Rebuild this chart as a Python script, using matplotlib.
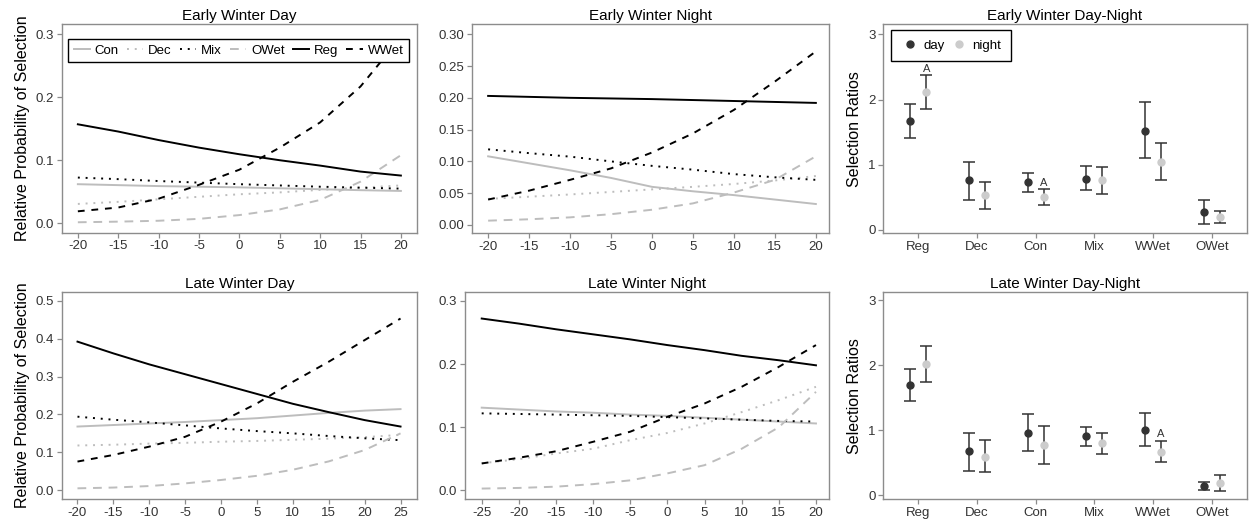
import numpy as np
import matplotlib
matplotlib.use("Agg")
from matplotlib import pyplot as plt
from matplotlib.ticker import FormatStrFormatter

plt.rcParams["font.family"] = ["Liberation Sans", "DejaVu Sans"]
plt.rcParams["axes.unicode_minus"] = False

# %% curve data
habitats = ["Con", "Dec", "Mix", "OWet", "Reg", "WWet"]

x_ewd = [-20, -15, -10, -5, 0, 5, 10, 15, 20]
ewd = {
    "Con": [0.062, 0.0605, 0.059, 0.058, 0.057, 0.0555, 0.054, 0.0525, 0.0513],
    "Dec": [0.0307, 0.034, 0.038, 0.042, 0.046, 0.049, 0.053, 0.0565, 0.060],
    "Mix": [0.0725, 0.070, 0.067, 0.0645, 0.062, 0.060, 0.058, 0.0565, 0.055],
    "OWet": [0.0016, 0.0026, 0.004, 0.007, 0.013, 0.022, 0.037, 0.066, 0.108],
    "Reg": [0.157, 0.1455, 0.132, 0.120, 0.1095, 0.100, 0.0915, 0.082, 0.0757],
    "WWet": [0.019, 0.025, 0.039, 0.061, 0.085, 0.120, 0.160, 0.217, 0.295],
}

x_ewn = [-20, -15, -10, -5, 0, 5, 10, 15, 20]
ewn = {
    "Con": [0.108, 0.097, 0.086, 0.074, 0.060, 0.053, 0.047, 0.040, 0.033],
    "Dec": [0.041, 0.0445, 0.048, 0.052, 0.056, 0.060, 0.0645, 0.070, 0.077],
    "Mix": [0.119, 0.113, 0.1075, 0.100, 0.093, 0.087, 0.080, 0.075, 0.071],
    "OWet": [0.0068, 0.009, 0.012, 0.017, 0.024, 0.034, 0.051, 0.071, 0.108],
    "Reg": [0.203, 0.2015, 0.200, 0.199, 0.198, 0.1965, 0.195, 0.1935, 0.192],
    "WWet": [0.040, 0.054, 0.071, 0.089, 0.114, 0.144, 0.181, 0.2256, 0.273],
}

x_lwd = [-20, -15, -10, -5, 0, 5, 10, 15, 20, 25]
lwd = {
    "Con": [0.168, 0.172, 0.176, 0.180, 0.185, 0.190, 0.197, 0.204, 0.210, 0.214],
    "Dec": [0.118, 0.120, 0.123, 0.125, 0.128, 0.130, 0.133, 0.136, 0.140, 0.146],
    "Mix": [0.194, 0.186, 0.179, 0.171, 0.163, 0.156, 0.150, 0.143, 0.137, 0.132],
    "OWet": [0.005, 0.007, 0.011, 0.018, 0.027, 0.038, 0.054, 0.076, 0.106, 0.150],
    "Reg": [0.392, 0.361, 0.332, 0.306, 0.280, 0.254, 0.228, 0.206, 0.185, 0.168],
    "WWet": [0.0756, 0.093, 0.115, 0.141, 0.181, 0.229, 0.286, 0.339, 0.396, 0.453],
}

x_lwn = [-25, -20, -15, -10, -5, 0, 5, 10, 15, 20]
lwn = {
    "Con": [0.131, 0.128, 0.125, 0.123, 0.120, 0.118, 0.115, 0.112, 0.109, 0.106],
    "Dec": [0.043, 0.0495, 0.0585, 0.066, 0.0796, 0.091, 0.106, 0.124, 0.143, 0.164],
    "Mix": [0.122, 0.121, 0.120, 0.119, 0.118, 0.116, 0.114, 0.112, 0.110, 0.109],
    "OWet": [0.003, 0.004, 0.006, 0.010, 0.016, 0.027, 0.040, 0.066, 0.100, 0.156],
    "Reg": [0.272, 0.264, 0.255, 0.247, 0.239, 0.230, 0.222, 0.213, 0.206, 0.198],
    "WWet": [0.0427, 0.0517, 0.062, 0.077, 0.093, 0.1165, 0.1376, 0.164, 0.1956, 0.230],
}

# %% selection ratios
cats = ["Reg", "Dec", "Con", "Mix", "WWet", "OWet"]

early_day = [1.676, 0.767, 0.73, 0.79, 1.523, 0.281]
early_day_lo = [1.416, 0.46, 0.58, 0.61, 1.10, 0.097]
early_day_hi = [1.94, 1.047, 0.872, 0.98, 1.958, 0.465]
early_night = [2.12, 0.537, 0.50, 0.767, 1.038, 0.204]
early_night_lo = [1.856, 0.322, 0.383, 0.552, 0.767, 0.112]
early_night_hi = [2.377, 0.74, 0.627, 0.96, 1.33, 0.291]
early_marks = ["Reg", "Con"]

late_day = [1.70, 0.68, 0.967, 0.91, 1.013, 0.144]
late_day_lo = [1.455, 0.37, 0.69, 0.755, 0.755, 0.087]
late_day_hi = [1.95, 0.96, 1.255, 1.06, 1.27, 0.21]
late_night = [2.015, 0.596, 0.78, 0.81, 0.673, 0.195]
late_night_lo = [1.743, 0.355, 0.483, 0.643, 0.509, 0.067]
late_night_hi = [2.30, 0.86, 1.075, 0.96, 0.843, 0.308]
late_marks = ["WWet"]

# %% styles
GRAY = "#bdbdbd"
styles = {
    "Con": dict(color=GRAY),
    "Dec": dict(color=GRAY, dashes=(1, 3)),
    "Mix": dict(color="black", dashes=(1, 3)),
    "OWet": dict(color=GRAY, dashes=(4.5, 3.5)),
    "Reg": dict(color="black"),
    "WWet": dict(color="black", dashes=(3.5, 3.5)),
}
FRAME = "#8c8c8c"


def style_axes(ax):
    for s in ax.spines.values():
        s.set_color(FRAME)
        s.set_linewidth(1.0)
    ax.tick_params(direction="out", length=3.5, width=0.9, color=FRAME,
                   labelcolor="#333333", labelsize=9.5, pad=2)


def curves(ax, x, data, title, xlim, ylim, yticks, fmt, ylabel=False, legend=False):
    for h in habitats:
        ax.plot(x, data[h], lw=1.4, label=h, **styles[h])
    ax.set_xlim(*xlim)
    ax.set_ylim(*ylim)
    ax.set_xticks(np.arange(x[0], x[-1] + 1, 5))
    ax.set_yticks(yticks)
    ax.yaxis.set_major_formatter(FormatStrFormatter(fmt))
    ax.set_title(title, fontsize=11, pad=3)
    style_axes(ax)
    if ylabel:
        ax.set_ylabel("Relative Probability of Selection", fontsize=11.5, labelpad=4)
    if legend:
        leg = ax.legend(ncol=6, loc="lower left", mode="expand",
                        bbox_to_anchor=(0.0186, 0.819, 0.958, 0.157),
                        fontsize=9.5, handlelength=1.25, handletextpad=0.35,
                        columnspacing=0.5, borderaxespad=0, fancybox=False,
                        framealpha=1, edgecolor="black")
        leg.get_frame().set_linewidth(1.0)


def ratios(ax, title, d, dlo, dhi, n, nlo, nhi, marks, ylim, legend=False):
    pos = np.arange(len(cats))
    off = 0.135
    d, dlo, dhi = np.array(d), np.array(dlo), np.array(dhi)
    n, nlo, nhi = np.array(n), np.array(nlo), np.array(nhi)
    ax.errorbar(pos - off, d, yerr=[d - dlo, dhi - d], fmt="none",
                ecolor="#333333", elinewidth=1.1, capsize=4.3, capthick=1.1)
    ax.errorbar(pos + off, n, yerr=[n - nlo, nhi - n], fmt="none",
                ecolor="#333333", elinewidth=1.1, capsize=4.3, capthick=1.1)
    ax.plot(pos - off, d, "o", color="#333333", ms=5, label="day", zorder=3)
    ax.plot(pos + off, n, "o", color="#cccccc", ms=5, label="night", zorder=3)
    for m in marks:
        i = cats.index(m)
        ax.text(pos[i] + off, nhi[i] + 0.02, "A", ha="center", va="bottom",
                fontsize=8, color="#333333")
    ax.set_xlim(-0.6, 5.6)
    ax.set_ylim(*ylim)
    ax.set_xticks(pos)
    ax.set_xticklabels(cats)
    ax.set_yticks([0, 1, 2, 3])
    ax.set_title(title, fontsize=11, pad=3)
    ax.set_ylabel("Selection Ratios", fontsize=11.5, labelpad=4)
    style_axes(ax)
    if legend:
        leg = ax.legend(ncol=2, loc="upper left",
                        bbox_to_anchor=(0.021, 0.971),
                        fontsize=9.5, handlelength=1.6, handletextpad=0.2,
                        columnspacing=0.3, borderaxespad=0, borderpad=0.7,
                        fancybox=False, framealpha=1, edgecolor="black",
                        numpoints=1)
        leg.get_frame().set_linewidth(1.0)


fig = plt.figure(figsize=(12.49, 5.23), dpi=100)
ax1 = fig.add_axes([0.0494, 0.555, 0.2845, 0.399])
ax2 = fig.add_axes([0.3777, 0.554, 0.286, 0.400])
ax3 = fig.add_axes([0.707, 0.554, 0.2914, 0.400])
ax4 = fig.add_axes([0.0494, 0.0453, 0.2845, 0.3964])
ax5 = fig.add_axes([0.3723, 0.0453, 0.2914, 0.3964])
ax6 = fig.add_axes([0.707, 0.0453, 0.2914, 0.3964])

curves(ax1, x_ewd, ewd, "Early Winter Day", (-22, 22), (-0.015, 0.316),
       [0, 0.1, 0.2, 0.3], "%.1f", ylabel=True, legend=True)
curves(ax2, x_ewn, ewn, "Early Winter Night", (-22, 21.6), (-0.013, 0.316),
       np.arange(0, 0.31, 0.05), "%.2f")
curves(ax4, x_lwd, lwd, "Late Winter Day", (-22.2, 27.3), (-0.024, 0.523),
       [0, 0.1, 0.2, 0.3, 0.4, 0.5], "%.1f", ylabel=True)
curves(ax5, x_lwn, lwn, "Late Winter Night", (-27.25, 21.75), (-0.014, 0.314),
       [0, 0.1, 0.2, 0.3], "%.1f")

ratios(ax3, "Early Winter Day-Night", early_day, early_day_lo, early_day_hi,
       early_night, early_night_lo, early_night_hi, early_marks, (-0.05, 3.16),
       legend=True)
ratios(ax6, "Late Winter Day-Night", late_day, late_day_lo, late_day_hi,
       late_night, late_night_lo, late_night_hi, late_marks, (-0.06, 3.13))

fig.savefig("out.png", dpi=100)
